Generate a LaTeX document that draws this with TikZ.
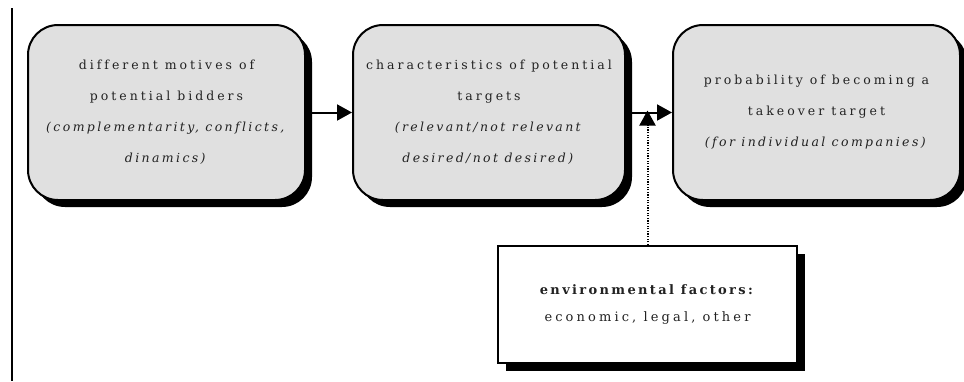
\documentclass[tikz,border=0pt]{standalone}
\usepackage{fontspec}
\setmainfont{DejaVu Serif}[LetterSpace=24, Ligatures=NoCommon,
  ItalicFeatures={LetterSpace=19}, BoldFeatures={LetterSpace=18}]
\usetikzlibrary{arrows.meta,shadows}
\definecolor{boxgray}{HTML}{E0E0E0}
\definecolor{txt}{HTML}{222222}
\tikzset{
  stagebox/.style={draw=black, line width=2pt, fill=boxgray, rounded corners=30pt,
    align=center, text=txt, font=\fontsize{12.5}{31}\selectfont, inner sep=0pt,
    drop shadow={shadow xshift=7pt, shadow yshift=-7pt, fill=black, opacity=1}},
  envbox/.style={draw=black, line width=2pt, fill=white, align=center, text=txt,
    font=\fontsize{13}{27}\selectfont, inner sep=0pt,
    drop shadow={shadow xshift=8pt, shadow yshift=-8pt, fill=black, opacity=1}},
  flow/.style={line width=2pt, -{Triangle[length=15pt,width=16pt]}},
  influence/.style={line width=2pt, dash pattern=on 1.3pt off 1.3pt, -{Triangle[length=15pt,width=16pt]}}
}
\begin{document}
\begin{tikzpicture}[x=1pt,y=-1pt]
\useasboundingbox (0,0) rectangle (964,381);
\draw[line width=2pt] (12,8) -- (12,381);
\node[stagebox, minimum width=277pt, minimum height=175pt] (b1) at (166.5,112.5)
  {different motives of\\potential bidders\\\textit{(complementarity, conflicts,}\\\textit{dinamics)}};
\node[stagebox, minimum width=272pt, minimum height=175pt] (b2) at (489,112.5)
  {characteristics of potential\\targets\\\textit{(relevant/not relevant}\\\textit{desired/not desired)}};
\node[stagebox, minimum width=287pt, minimum height=175pt] (b3) at (816.5,112.5)
  {probability of becoming a\\takeover target\\\textit{(for individual companies)}};
\node[envbox, minimum width=299pt, minimum height=117pt] (env) at (647.5,304.5)
  {\textbf{environmental factors:}\\economic, legal, other};
\draw[flow] (b1.east) -- (b2.west);
\draw[flow] (b2.east) -- (b3.west);
\draw[influence] (env.north) -- ([yshift=2pt]env.north |- b2.east);
\end{tikzpicture}
\end{document}
